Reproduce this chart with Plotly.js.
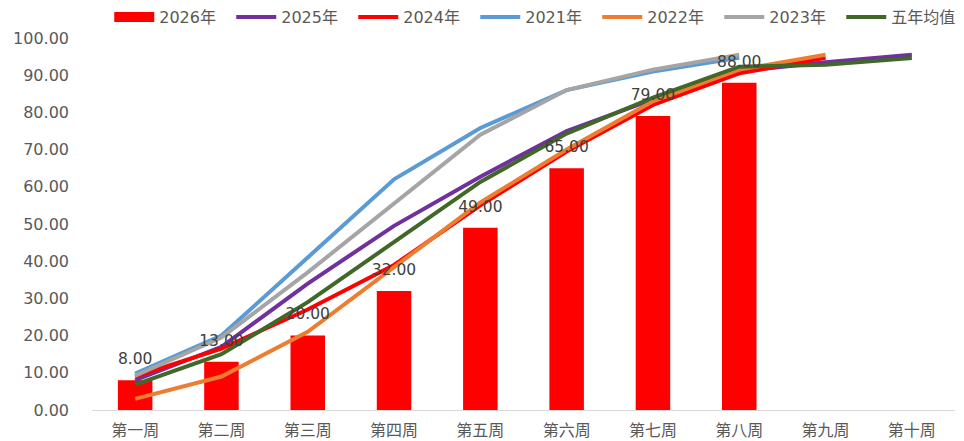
<!DOCTYPE html>
<html><head><meta charset="utf-8">
<script src="https://cdn.plot.ly/plotly-3.0.1.min.js"></script>
<style>html,body{margin:0;padding:0;background:#fff;overflow:hidden}#chart{width:964px;height:441px}</style>
</head><body><div id="chart"></div>
<script>
const weeks = ['第一周','第二周','第三周','第四周','第五周','第六周','第七周','第八周','第九周','第十周'];
const y2026 = [8, 13, 20, 32, 49, 65, 79, 88];
const y2025 = [8, 17, 34, 49.5, 62.7, 75, 83.5, 91, 93.5, 95.5];
const y2024 = [9, 16.5, 27, 39, 55, 69.5, 82, 90.5, 94.7];
const y2021 = [9.8, 20, 41, 62, 75.8, 86, 91, 94.7];
const y2022 = [3, 9, 21, 38.5, 55.8, 70, 83, 91.5, 95.5];
const y2023 = [9.2, 19.5, 37, 55.6, 74, 86, 91.5, 95.5];
const avg5 = [6.8, 15, 29, 45, 61.3, 74.3, 84, 92.3, 92.8, 94.6];

const NUMFONT = '"DejaVu Sans", "Noto Sans CJK SC", sans-serif';
const CJKFONT = '"Noto Sans CJK SC", sans-serif';
function line(name, ys, color){
  return {type:'scatter', mode:'lines', name:name, x:weeks.slice(0, ys.length), y:ys,
    line:{color:color, width:4}, hoverinfo:'skip'};
}
const traces = [
  // legend-only entry giving the 2026 bar series a wide rectangular key
  {type:'scatter', mode:'lines', name:'2026年', x:[null], y:[null],
   line:{color:'#FF0000', width:11}, hoverinfo:'skip'},
  {type:'bar', name:'2026年', x:weeks.slice(0, y2026.length), y:y2026,
   marker:{color:'#FF0000'}, width:0.4, showlegend:false},
  line('2025年', y2025, '#7030A0'),
  line('2024年', y2024, '#FF0000'),
  line('2021年', y2021, '#5B9BD5'),
  line('2022年', y2022, '#ED7D31'),
  line('2023年', y2023, '#A5A5A5'),
  line('五年均值', avg5, '#406828'),
  {type:'scatter', mode:'markers+text', x:weeks.slice(0, y2026.length), y:y2026,
   marker:{size:18, opacity:0},
   text:y2026.map(v => v.toFixed(2)), textposition:'top center',
   textfont:{family:NUMFONT, size:15.5, color:'#404040'}, showlegend:false, hoverinfo:'skip'}
];
const layout = {
  width:964, height:441,
  margin:{l:92, r:9, t:38, b:31, autoexpand:false},
  paper_bgcolor:'#fff', plot_bgcolor:'#fff',
  font:{family:NUMFONT, size:15, color:'#595959'},
  showlegend:true,
  legend:{orientation:'h', x:0.02, xanchor:'left', y:1.056, yanchor:'middle',
    font:{family:NUMFONT, size:16, color:'#595959'}, itemwidth:40,
    entrywidth:67, entrywidthmode:'pixels', tracegroupgap:0, traceorder:'normal'},
  xaxis:{type:'category', range:[-0.5, 9.5], showgrid:false, showline:true, linecolor:'#D9D9D9', linewidth:1,
    ticks:'', ticklabelstandoff:6, tickfont:{family:CJKFONT, size:16, color:'#595959'}, zeroline:false},
  yaxis:{range:[0,100], dtick:10, tickformat:'.2f', showgrid:false, showline:false,
    zeroline:false, ticks:'', ticklabelstandoff:22, tickfont:{family:NUMFONT, size:16, color:'#595959'}},
  bargap:0.6
};
Plotly.newPlot('chart', traces, layout, {displayModeBar:false, staticPlot:true});
</script></body></html>
